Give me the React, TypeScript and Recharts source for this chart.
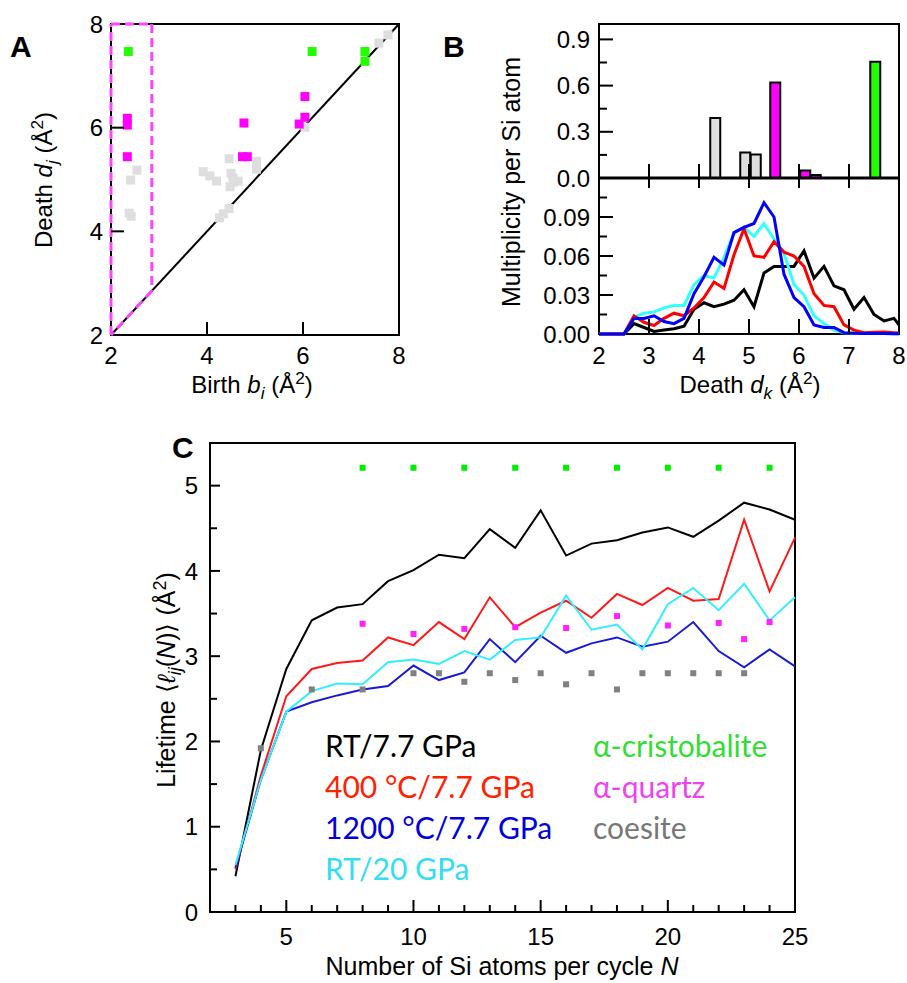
import React from "react";
import {
  Bar,
  Cell,
  ComposedChart,
  Line,
  ReferenceArea,
  ReferenceLine,
  Scatter,
  XAxis,
  YAxis,
} from "recharts";

const SANS = "'Liberation Sans', Arial, Helvetica, sans-serif";
const CALIBRI = "Lato, 'Open Sans', sans-serif";

// ---- panel A: persistence diagram ----
const cristBirth = [2.36, 6.19, 7.29, 7.29];
const cristDeath = [7.47, 7.47, 7.47, 7.28];
const quartzBirth = [2.34, 2.34, 2.34, 4.77, 4.74, 4.84, 6.04, 6.04, 5.92];
const quartzDeath = [6.18, 6.05, 5.44, 6.09, 5.44, 5.44, 6.6, 6.2, 6.07];
const coesBirth = [
  2.54, 2.41, 2.38, 2.42, 3.92, 4.06, 4.2, 4.46, 4.54, 4.48, 4.65, 4.5, 4.55,
  5.03, 5.03, 4.46, 4.34, 4.26, 6.04, 7.58, 7.77,
];
const coesDeath = [
  5.18, 4.99, 4.35, 4.29, 5.15, 5.07, 4.97, 5.4, 5.03, 4.86, 4.97, 5.12, 4.95,
  5.35, 5.2, 4.44, 4.34, 4.26, 6.01, 7.63, 7.79,
];

// ---- panel B (top): crystal multiplicities ----
const barDeath = [4.33, 4.93, 5.14, 5.53, 6.13, 6.34, 7.53];
const barMult = [0.39, 0.165, 0.152, 0.62, 0.048, 0.02, 0.755];
const barPhase = ["coesite", "coesite", "coesite", "quartz", "quartz", "quartz", "cristobalite"];

// ---- panel B (bottom): glass multiplicities ----
const deathK = [
  2.0, 2.1, 2.3, 2.5, 2.7, 2.9, 3.1, 3.3, 3.5, 3.7, 3.9, 4.1, 4.3, 4.5, 4.7, 4.9,
  5.1, 5.3, 5.5, 5.7, 5.9, 6.1, 6.3, 6.5, 6.7, 6.9, 7.1, 7.3, 7.5, 7.7, 7.9, 8.0,
];
const multRT77 = [
  0, 0, 0, 0, 0.008, 0.005, 0.002, 0.003, 0.004, 0.006, 0.019, 0.024, 0.021,
  0.023, 0.026, 0.034, 0.021, 0.047, 0.052, 0.052, 0.052, 0.064, 0.043, 0.052,
  0.037, 0.034, 0.019, 0.028, 0.015, 0.01, 0.012, 0.007,
];
const mult400 = [
  0, 0, 0, 0, 0.014, 0.009, 0.0065, 0.012, 0.016, 0.014, 0.02, 0.028, 0.04,
  0.035, 0.061, 0.081, 0.06, 0.059, 0.071, 0.063, 0.06, 0.052, 0.031, 0.022,
  0.021, 0.007, 0.003, 0.001, 0.0013, 0.0015, 0.001, 0.0008,
];
const mult1200 = [
  0, 0, 0, 0, 0.012, 0.012, 0.014, 0.0096, 0.008, 0.012, 0.031, 0.044, 0.059,
  0.053, 0.078, 0.082, 0.085, 0.101, 0.09, 0.046, 0.028, 0.021, 0.007, 0.005,
  0.005, 0.001, 0.0005, 0.0004, 0.0003, 0.0003, 0.0002, 0.0002,
];
const multRT20 = [
  0, 0, 0, 0, 0.013, 0.016, 0.017, 0.02, 0.022, 0.022, 0.038, 0.045, 0.043,
  0.059, 0.078, 0.082, 0.075, 0.085, 0.073, 0.062, 0.038, 0.03, 0.014, 0.008,
  0.003, 0.001, 0.0005, 0.0004, 0.0003, 0.0003, 0.0002, 0.0002,
];

// ---- panel C: mean lifetime vs cycle size ----
const cycleN = [3, 4, 5, 6, 7, 8, 9, 10, 11, 12, 13, 14, 15, 16, 17, 18, 19, 20, 21, 22, 23, 24, 25];
const lifeRT77 = [
  0.42, 1.9, 2.85, 3.42, 3.57, 3.61, 3.88, 4.01, 4.19, 4.15, 4.49, 4.27, 4.71,
  4.18, 4.32, 4.36, 4.45, 4.51, 4.4, 4.59, 4.8, 4.72, 4.6,
];
const life400 = [
  0.5, 1.6, 2.53, 2.85, 2.92, 2.95, 3.22, 3.13, 3.4, 3.2, 3.69, 3.34, 3.51,
  3.65, 3.45, 3.73, 3.6, 3.8, 3.65, 3.67, 4.6, 3.76, 4.39,
];
const life1200 = [
  0.52, 1.55, 2.35, 2.46, 2.54, 2.61, 2.65, 2.89, 2.72, 2.81, 3.2, 2.93, 3.24,
  3.04, 3.15, 3.22, 3.11, 3.17, 3.4, 3.06, 2.87, 3.08, 2.88,
];
const lifeRT20 = [
  0.55, 1.55, 2.35, 2.59, 2.68, 2.67, 2.93, 2.96, 2.91, 3.06, 2.96, 3.19, 3.22,
  3.71, 3.31, 3.37, 3.08, 3.61, 3.8, 3.54, 3.85, 3.42, 3.69,
];
const cristN = [8, 10, 12, 14, 16, 18, 20, 22, 24];
const cristLife = [5.21, 5.21, 5.21, 5.21, 5.21, 5.21, 5.21, 5.21, 5.21];
const quartzN = [8, 10, 12, 14, 16, 18, 20, 22, 23, 24];
const quartzLife = [3.38, 3.26, 3.32, 3.34, 3.33, 3.47, 3.36, 3.39, 3.2, 3.4];
const coesN = [4, 6, 8, 10, 11, 12, 13, 14, 15, 16, 17, 18, 19, 20, 21, 22, 23];
const coesLife = [
  1.92, 2.61, 2.61, 2.8, 2.8, 2.7, 2.8, 2.72, 2.8, 2.67, 2.8, 2.61, 2.8, 2.8, 2.8,
  2.8, 2.8,
];

const phaseColor: Record<string, string> = {
  cristobalite: "#22ff00",
  quartz: "#ff00ff",
  coesite: "#dedede",
};

const square = (size: number, color: string) => (p: any) =>
  <rect x={p.cx - size / 2} y={p.cy - size / 2} width={size} height={size} fill={color} />;

const near = (v: number, step: number) => Math.abs(v / step - Math.round(v / step)) < 1e-6;

// ticks point inward, labels sit outside
const bottomTick =
  (o: { major: (v: number) => boolean; fmt: (v: number) => string; len: number; minor: number; down?: number; size: number; dy: number; skip?: number[] }) =>
  (p: any) => {
    const v = p.payload.value;
    const big = o.major(v);
    const showLine = !(o.skip || []).includes(v);
    return (
      <g>
        {showLine && (
          <line x1={p.x} x2={p.x} y1={p.y + (o.down || 0)} y2={p.y - (big ? o.len : o.minor)} stroke="#000" strokeWidth={2} />
        )}
        {big && o.fmt(v) !== "" && (
          <text x={p.x} y={p.y + o.dy} textAnchor="middle" fontSize={o.size} fontFamily={SANS} fill="#000">
            {o.fmt(v)}
          </text>
        )}
      </g>
    );
  };

const leftTick =
  (o: { major: (v: number) => boolean; fmt: (v: number) => string; len: number; minor: number; size: number; gap: number; skip?: number[] }) =>
  (p: any) => {
    const v = p.payload.value;
    const big = o.major(v);
    const showLine = !(o.skip || []).includes(v);
    return (
      <g>
        {showLine && <line x1={p.x} x2={p.x + (big ? o.len : o.minor)} y1={p.y} y2={p.y} stroke="#000" strokeWidth={2} />}
        {big && (
          <text x={p.x - o.gap} y={p.y + o.size * 0.36} textAnchor="end" fontSize={o.size} fontFamily={SANS} fill="#000">
            {o.fmt(v)}
          </text>
        )}
      </g>
    );
  };

function PanelA() {
  const coes = coesBirth.map((b, i) => ({ b, d: coesDeath[i] }));
  const quartz = quartzBirth.map((b, i) => ({ b, d: quartzDeath[i] }));
  const crist = cristBirth.map((b, i) => ({ b, d: cristDeath[i] }));
  const dash = { stroke: "#ff44ff", strokeWidth: 3, strokeDasharray: "9 5" };
  return (
    <ComposedChart width={420} height={400} margin={{ top: 24, right: 21, bottom: 0, left: 0 }}>
      <XAxis
        type="number"
        dataKey="b"
        domain={[2, 8]}
        ticks={[2, 4, 6, 8]}
        interval={0}
        height={65}
        tickSize={0}
        tickMargin={0}
        tickLine={false}
        axisLine={false}
        tick={bottomTick({ major: () => true, fmt: (v) => String(v), len: 13, minor: 0, size: 24, dy: 29, skip: [2, 8] })}
      />
      <YAxis
        type="number"
        domain={[2, 8]}
        ticks={[2, 4, 6, 8]}
        interval={0}
        width={111}
        tickSize={0}
        tickMargin={0}
        tickLine={false}
        axisLine={false}
        tick={leftTick({ major: () => true, fmt: (v) => String(v), len: 13, minor: 0, size: 24, gap: 8, skip: [2, 8] })}
      />
      <ReferenceArea x1={2} x2={8} y1={2} y2={8} fill="none" stroke="#000" strokeWidth={2} />
      <ReferenceLine segment={[{ x: 2, y: 2 }, { x: 8, y: 8 }]} stroke="#000" strokeWidth={2} />
      <Scatter data={coes} dataKey="d" shape={square(9, phaseColor.coesite)} isAnimationActive={false} />
      <Scatter data={quartz} dataKey="d" shape={square(9, phaseColor.quartz)} isAnimationActive={false} />
      <Scatter data={crist} dataKey="d" shape={square(9, phaseColor.cristobalite)} isAnimationActive={false} />
      <ReferenceLine segment={[{ x: 2, y: 2 }, { x: 2, y: 8 }]} {...dash} />
      <ReferenceLine segment={[{ x: 2, y: 8 }, { x: 2.85, y: 8 }]} {...dash} />
      <ReferenceLine segment={[{ x: 2.85, y: 8 }, { x: 2.85, y: 2.85 }]} {...dash} />
      <ReferenceLine segment={[{ x: 2.85, y: 2.85 }, { x: 2, y: 2 }]} {...dash} />
    </ComposedChart>
  );
}

function PanelBTop() {
  const rows = barDeath.map((x, i) => ({ x, m: barMult[i], phase: barPhase[i] }));
  return (
    <ComposedChart width={467} height={200} data={rows} margin={{ top: 24, right: 8, bottom: 0, left: 0 }}>
      <XAxis
        type="number"
        dataKey="x"
        domain={[2, 8]}
        ticks={[3, 4, 5, 6, 7]}
        interval={0}
        height={22}
        tickSize={0}
        tickMargin={0}
        tickLine={false}
        axisLine={{ stroke: "#000", strokeWidth: 3 }}
        tick={bottomTick({ major: () => true, fmt: () => "", len: 14, minor: 0, down: 10, size: 24, dy: 0 })}
      />
      <YAxis
        type="number"
        domain={[0, 1]}
        ticks={[0, 0.15, 0.3, 0.45, 0.6, 0.75, 0.9]}
        interval={0}
        width={159}
        tickSize={0}
        tickMargin={0}
        tickLine={false}
        axisLine={false}
        tick={leftTick({ major: (v) => near(v, 0.3), fmt: (v) => v.toFixed(1), len: 14, minor: 8, size: 24, gap: 9, skip: [0] })}
      />
      <ReferenceArea x1={2} x2={8} y1={0} y2={1} fill="none" stroke="#000" strokeWidth={2} />
      <Bar dataKey="m" barSize={10} stroke="#000" strokeWidth={2} isAnimationActive={false}>
        {rows.map((r, i) => (
          <Cell key={i} fill={phaseColor[r.phase]} />
        ))}
      </Bar>
    </ComposedChart>
  );
}

function PanelBBottom() {
  const rows = deathK.map((d, i) => ({
    d,
    rt77: multRT77[i],
    t400: mult400[i],
    t1200: mult1200[i],
    rt20: multRT20[i],
  }));
  return (
    <ComposedChart width={467} height={222} data={rows} margin={{ top: 0, right: 8, bottom: 0, left: 0 }}>
      <XAxis
        type="number"
        dataKey="d"
        domain={[2, 8]}
        ticks={[2, 3, 4, 5, 6, 7, 8]}
        interval={0}
        height={66}
        tickSize={0}
        tickMargin={0}
        tickLine={false}
        axisLine={false}
        tick={bottomTick({ major: () => true, fmt: (v) => String(v), len: 15, minor: 0, size: 24, dy: 30, skip: [2, 8] })}
      />
      <YAxis
        type="number"
        domain={[0, 0.12]}
        ticks={[0, 0.015, 0.03, 0.045, 0.06, 0.075, 0.09, 0.105]}
        interval={0}
        width={159}
        tickSize={0}
        tickMargin={0}
        tickLine={false}
        axisLine={false}
        tick={leftTick({ major: (v) => near(v, 0.03), fmt: (v) => v.toFixed(2), len: 14, minor: 8, size: 24, gap: 9, skip: [0] })}
      />
      <ReferenceArea x1={2} x2={8} y1={0} y2={0.12} fill="none" stroke="#000" strokeWidth={2} />
      <Line dataKey="rt77" stroke="#000" strokeWidth={3} dot={false} isAnimationActive={false} />
      <Line dataKey="rt20" stroke="#33ffff" strokeWidth={3} dot={false} isAnimationActive={false} />
      <Line dataKey="t400" stroke="#ff0000" strokeWidth={3} dot={false} isAnimationActive={false} />
      <Line dataKey="t1200" stroke="#0000ff" strokeWidth={3} dot={false} isAnimationActive={false} />
    </ComposedChart>
  );
}

function PanelC() {
  const rows = cycleN.map((n, i) => ({
    n,
    rt77: lifeRT77[i],
    t400: life400[i],
    t1200: life1200[i],
    rt20: lifeRT20[i],
  }));
  const crist = cristN.map((n, i) => ({ n, life: cristLife[i] }));
  const quartz = quartzN.map((n, i) => ({ n, life: quartzLife[i] }));
  const coes = coesN.map((n, i) => ({ n, life: coesLife[i] }));
  const xt: number[] = [];
  for (let n = 3; n <= 25; n++) xt.push(n);
  return (
    <ComposedChart width={807} height={553} data={rows} margin={{ top: 13, right: 112, bottom: 0, left: 0 }}>
      <XAxis
        type="number"
        dataKey="n"
        domain={[2, 25]}
        ticks={xt}
        interval={0}
        height={71}
        tickSize={0}
        tickMargin={0}
        tickLine={false}
        axisLine={false}
        tick={bottomTick({ major: (v) => v % 5 === 0, fmt: (v) => String(v), len: 12, minor: 7, size: 24, dy: 33, skip: [25] })}
      />
      <YAxis
        type="number"
        domain={[0, 5.5]}
        ticks={[0, 0.5, 1, 1.5, 2, 2.5, 3, 3.5, 4, 4.5, 5]}
        interval={0}
        width={110}
        tickSize={0}
        tickMargin={0}
        tickLine={false}
        axisLine={false}
        tick={leftTick({ major: (v) => near(v, 1), fmt: (v) => String(v), len: 10, minor: 7, size: 24, gap: 12, skip: [0] })}
      />
      <ReferenceArea x1={2} x2={25} y1={0} y2={5.5} fill="none" stroke="#000" strokeWidth={2} />
      <Scatter data={crist} dataKey="life" shape={square(6, "#00ee00")} isAnimationActive={false} />
      <Scatter data={quartz} dataKey="life" shape={square(6, "#ff22ff")} isAnimationActive={false} />
      <Scatter data={coes} dataKey="life" shape={square(6, "#808080")} isAnimationActive={false} />
      <Line dataKey="rt77" stroke="#000" strokeWidth={2} dot={false} isAnimationActive={false} />
      <Line dataKey="t400" stroke="#ff1a1a" strokeWidth={2} dot={false} isAnimationActive={false} />
      <Line dataKey="t1200" stroke="#1a1ad6" strokeWidth={2} dot={false} isAnimationActive={false} />
      <Line dataKey="rt20" stroke="#33eeff" strokeWidth={2} dot={false} isAnimationActive={false} />
    </ComposedChart>
  );
}

const legendLeft = [
  { text: "RT/7.7 GPa", color: "#000000" },
  { text: "400 °C/7.7 GPa", color: "#ff2200" },
  { text: "1200 °C/7.7 GPa", color: "#0000dd" },
  { text: "RT/20 GPa", color: "#33ddf5" },
];
const legendRight = [
  { text: "α-cristobalite", color: "#33dd33" },
  { text: "α-quartz", color: "#ee44ee" },
  { text: "coesite", color: "#777777" },
];

function Overlay() {
  const sub = { fontSize: "0.72em" };
  return (
    <svg width={907} height={983} style={{ position: "absolute", left: 0, top: 0, pointerEvents: "none" }}>
      <g fontFamily={SANS} fontWeight="bold" fontSize={30} fill="#000">
        <text x={10} y={57}>A</text>
        <text x={443} y={57}>B</text>
        <text x={172} y={458}>C</text>
      </g>
      <g fontFamily={SANS} fontSize={24} fill="#000">
        <text transform="translate(52,180) rotate(-90)" textAnchor="middle">
          Death <tspan fontStyle="italic">d</tspan>
          <tspan fontStyle="italic" dy={6} {...sub}>j</tspan>
          <tspan dy={-6}> (Å</tspan>
          <tspan dy={-9} {...sub}>2</tspan>
          <tspan dy={9}>)</tspan>
        </text>
        <text x={252} y={393} textAnchor="middle">
          Birth <tspan fontStyle="italic">b</tspan>
          <tspan fontStyle="italic" dy={6} {...sub}>i</tspan>
          <tspan dy={-6}> (Å</tspan>
          <tspan dy={-9} {...sub}>2</tspan>
          <tspan dy={9}>)</tspan>
        </text>
        <text transform="translate(520,182) rotate(-90)" textAnchor="middle" fontSize={25}>
          Multiplicity per Si atom
        </text>
        <text x={750} y={393} textAnchor="middle">
          Death <tspan fontStyle="italic">d</tspan>
          <tspan fontStyle="italic" dy={6} {...sub}>k</tspan>
          <tspan dy={-6}> (Å</tspan>
          <tspan dy={-9} {...sub}>2</tspan>
          <tspan dy={9}>)</tspan>
        </text>
        <text transform="translate(175,680) rotate(-90)" textAnchor="middle" fontSize={25}>
          Lifetime ⟨<tspan fontStyle="italic">ℓ</tspan>
          <tspan fontStyle="italic" dy={6} {...sub}>ij</tspan>
          <tspan dy={-6}>(</tspan>
          <tspan fontStyle="italic">N</tspan>)⟩ (Å
          <tspan dy={-9} {...sub}>2</tspan>
          <tspan dy={9}>)</tspan>
        </text>
        <text x={502} y={975} textAnchor="middle" fontSize={25}>
          Number of Si atoms per cycle <tspan fontStyle="italic">N</tspan>
        </text>
      </g>
      <g fontFamily={CALIBRI} fontSize={30}>
        {legendLeft.map((l, i) => (
          <text key={l.text} x={325} y={757 + i * 41} fill={l.color}>
            {l.text}
          </text>
        ))}
        {legendRight.map((l, i) => (
          <text key={l.text} x={593} y={757 + i * 41} fill={l.color}>
            {l.text}
          </text>
        ))}
      </g>
    </svg>
  );
}

export default function App() {
  return (
    <div style={{ position: "absolute", left: 0, top: 0, width: 907, height: 983, background: "#fff" }}>
      <div style={{ position: "absolute", left: 0, top: 0 }}>
        <PanelA />
      </div>
      <div style={{ position: "absolute", left: 440, top: 0 }}>
        <PanelBTop />
      </div>
      <div style={{ position: "absolute", left: 440, top: 178 }}>
        <PanelBBottom />
      </div>
      <div style={{ position: "absolute", left: 100, top: 430 }}>
        <PanelC />
      </div>
      <Overlay />
    </div>
  );
}
